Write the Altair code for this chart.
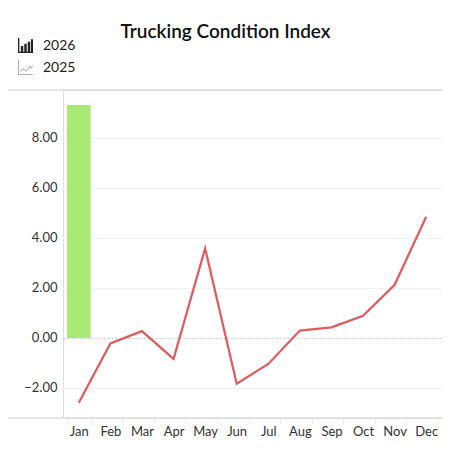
import altair as alt
import pandas as pd

months = ["Jan", "Feb", "Mar", "Apr", "May", "Jun", "Jul", "Aug", "Sep", "Oct", "Nov", "Dec"]
values_2025 = [-2.59, -0.22, 0.27, -0.84, 3.57, -1.83, -1.04, 0.29, 0.42, 0.88, 2.12, 4.84]
months_2026 = ["Jan"]
values_2026 = [9.3]
years = ["2026", "2025"]

FONT = "Lato"
W, H = 379, 328

line_df = pd.DataFrame({"month": months, "value": values_2025})
bar_df = pd.DataFrame({"month": months_2026, "value": values_2026})
legend_df = pd.DataFrame({"year": years})

bar_icon = (
    "M-1,-1 L-0.82,-1 L-0.82,1 L-1,1 Z "
    "M-1,0.82 L1,0.82 L1,1 L-1,1 Z "
    "M-0.62,0.05 L-0.3,0.05 L-0.3,0.82 L-0.62,0.82 Z "
    "M-0.16,-0.25 L0.16,-0.25 L0.16,0.82 L-0.16,0.82 Z "
    "M0.3,-0.5 L0.62,-0.5 L0.62,0.82 L0.3,0.82 Z "
    "M0.72,-0.85 L1,-0.85 L1,0.82 L0.72,0.82 Z"
)
line_icon = (
    "M-1,-1 L-0.9,-1 L-0.9,1 L-1,1 Z "
    "M-1,0.9 L1,0.9 L1,1 L-1,1 Z "
    "M-0.7,0.5 L-0.3,0.1 L0.1,0.4 L0.5,-0.2 L0.7,0 L1,-0.4 "
    "L1,-0.28 L0.7,0.12 L0.5,-0.08 L0.1,0.52 L-0.3,0.22 L-0.7,0.62 Z"
)

x_enc = alt.X(
    "month:N",
    sort=months,
    title=None,
    scale=alt.Scale(domain=months, paddingInner=0.25, paddingOuter=0.125),
    axis=alt.Axis(
        labelAngle=0,
        labelFont=FONT,
        labelFontSize=13,
        labelColor="#333333",
        labelPadding=2,
        tickBand="extent",
        tickColor="#e6e6e6",
        tickSize=5,
        domain=False,
        grid=False,
    ),
)

y_axis = alt.Axis(
    values=[-2, 0, 2, 4, 6, 8],
    format=".2f",
    labelFont=FONT,
    labelFontSize=13,
    labelColor="#333333",
    labelPadding=6,
    ticks=False,
    domain=False,
    grid=True,
    gridColor={"condition": {"test": "datum.value === 0", "value": "#c8c8c8"}, "value": "#f0f0f0"},
    gridDash={"condition": {"test": "datum.value === 0", "value": [2, 2]}, "value": []},
)
y_scale = alt.Scale(domain=[-3.2, 9.9], nice=False, zero=False)

bars = alt.Chart(bar_df).mark_bar(color="#a9ea76").encode(
    x=x_enc,
    y=alt.Y("value:Q", title=None, scale=y_scale, axis=y_axis),
)

line = alt.Chart(line_df).mark_line(color="#e05a5e", strokeWidth=2.2).encode(
    x=alt.X("month:N", sort=months),
    y=alt.Y("value:Q"),
)

legend_opts = dict(
    title=None,
    orient="none",
    legendX=-45,
    legendY=-52,
    symbolSize=225,
    symbolOpacity=1,
    symbolStrokeWidth=0,
    labelFont=FONT,
    labelFontSize=14,
    labelColor="#222222",
    labelOffset=10,
    rowPadding=7,
)

legend_layer = alt.Chart(legend_df).mark_point(opacity=0, filled=True, strokeWidth=0).encode(
    x=alt.value(0),
    y=alt.value(0),
    shape=alt.Shape(
        "year:N",
        sort=years,
        scale=alt.Scale(domain=years, range=[bar_icon, line_icon]),
        legend=alt.Legend(**legend_opts),
    ),
    color=alt.Color(
        "year:N",
        sort=years,
        scale=alt.Scale(domain=years, range=["#222222", "#9a9a9a"]),
        legend=alt.Legend(**legend_opts),
    ),
)

frame = pd.DataFrame({"edge": ["top", "bottom"], "py": [0, H]})
frame_lines = alt.Chart(frame).mark_rule(color="#dddddd", strokeWidth=1.5).encode(
    x=alt.value(-62),
    x2=alt.value(W),
    y=alt.Y("py:Q", scale=None),
)

chart = (
    alt.layer(bars, line, frame_lines, legend_layer)
    .properties(
        width=W,
        height=H,
        autosize=alt.AutoSizeParams(type="none"),
        padding={"left": 55, "top": 82, "right": 0, "bottom": 24},
        title=alt.Title(
            "Trucking Condition Index",
            font=FONT,
            fontSize=19,
            fontWeight=600,
            color="#111111",
            anchor="middle",
            dx=-27,
            offset=0,
            dy=4,
        ),
    )
    .configure_view(stroke="#dddddd", strokeWidth=1.5)
    .configure(background="white")
)

chart.save("out.html", embed_options={"renderer": "svg", "actions": False})
